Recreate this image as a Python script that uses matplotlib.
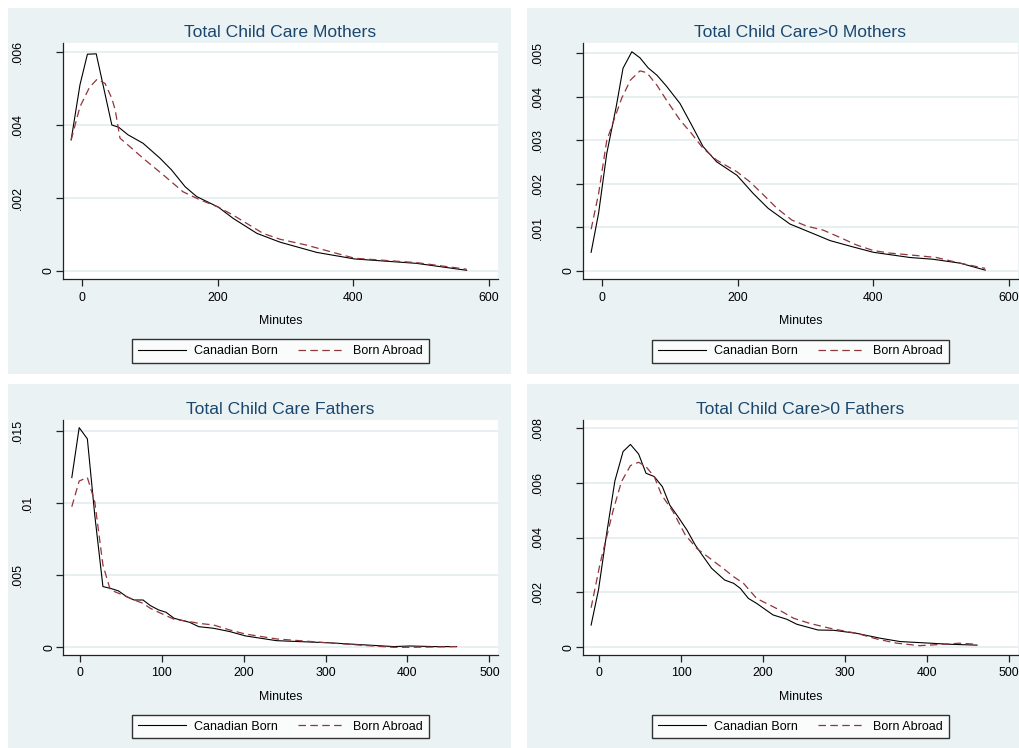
import matplotlib
matplotlib.use('Agg')
import matplotlib.pyplot as plt
from matplotlib.patches import Rectangle
from matplotlib import transforms

plt.rcParams['font.family'] = ['Liberation Sans', 'DejaVu Sans']

# kernel density estimates of daily child care minutes
mothers_x_cb = [-16, -3, 8, 21, 44, 54, 68, 90, 115, 132, 152, 169, 201, 223, 258, 292, 346, 402, 493, 567]
mothers_cb = [0.00359, 0.0051, 0.00594, 0.00595, 0.0040, 0.00394, 0.00373, 0.0035, 0.00309, 0.00277,
              0.00231, 0.00204, 0.00175, 0.00144, 0.00103, 0.00079, 0.00051, 0.00033, 0.00021, 0.00002]
mothers_x_ba = [-16, -3, 11, 22, 34, 44, 49, 56, 71, 90, 120, 149, 174, 201, 223, 267, 292, 331, 370, 402, 493, 567]
mothers_ba = [0.00359, 0.0045, 0.00503, 0.00525, 0.00514, 0.00473, 0.00441, 0.00364, 0.0034, 0.00309, 0.00263,
              0.00217, 0.00195, 0.00175, 0.00153, 0.00103, 0.00087, 0.00071, 0.00051, 0.00035, 0.00023, 0.00005]

mothers_pos_x_cb = [-16, -5, 7, 21, 31, 44, 56, 68, 81, 95, 115, 132, 149, 169, 199, 223, 245, 277, 316, 336,
                    366, 400, 454, 488, 528, 565]
mothers_pos_cb = [0.00043, 0.00133, 0.0027, 0.00378, 0.00466, 0.00504, 0.0049, 0.00467, 0.0045, 0.00425, 0.00385,
                  0.00336, 0.00286, 0.00251, 0.0022, 0.00178, 0.00144, 0.00108, 0.00083, 0.0007, 0.00057, 0.00043,
                  0.00031, 0.00027, 0.00018, 0.00002]
mothers_pos_x_ba = [-16, -5, 7, 29, 42, 56, 66, 81, 95, 115, 132, 149, 169, 199, 218, 238, 258, 280, 302, 326,
                    351, 375, 400, 425, 454, 493, 528, 565]
mothers_pos_ba = [0.00096, 0.00178, 0.003, 0.00397, 0.00439, 0.0046, 0.00456, 0.00427, 0.00393, 0.00347, 0.00316,
                  0.00282, 0.00255, 0.00228, 0.00205, 0.00175, 0.00144, 0.00117, 0.00103, 0.00094, 0.00077, 0.0006,
                  0.00047, 0.00041, 0.00037, 0.00031, 0.00018, 0.00006]

fathers_x = [-10, -1, 9, 18, 28, 37, 47, 57, 66, 77, 86, 96, 105, 115, 134, 145, 163, 183, 202, 240, 301, 350,
             383, 403, 432, 460]
fathers_cb = [0.01177, 0.01523, 0.01445, 0.00918, 0.00421, 0.00409, 0.00391, 0.00351, 0.00328, 0.00328, 0.00289,
              0.00259, 0.00243, 0.00201, 0.00173, 0.00143, 0.00132, 0.00109, 0.00079, 0.00046, 0.00032, 0.00016,
              0.00005, 0.00009, 0.00005, 0.00005]
fathers_ba = [0.00975, 0.01153, 0.01177, 0.0101, 0.00571, 0.00398, 0.00375, 0.00351, 0.00328, 0.00305, 0.0027,
              0.00243, 0.0022, 0.00194, 0.00178, 0.00166, 0.00155, 0.0012, 0.00092, 0.00058, 0.00032, 0.00012,
              0.0, 0.0, 0.00002, 0.00005]

fathers_pos_x_cb = [-10, -1, 9, 19, 29, 38, 48, 57, 67, 77, 86, 96, 107, 117, 127, 137, 153, 164, 172, 182, 192,
                    212, 229, 241, 267, 286, 314, 343, 367, 404, 428, 461]
fathers_pos_cb = [0.00081, 0.00209, 0.00415, 0.00606, 0.00713, 0.00739, 0.00704, 0.00634, 0.00622, 0.00585,
                  0.00518, 0.00476, 0.00427, 0.00373, 0.0033, 0.00288, 0.00245, 0.00233, 0.00215, 0.00178, 0.0016,
                  0.00118, 0.00102, 0.00084, 0.00063, 0.00062, 0.00051, 0.00033, 0.00021, 0.00015, 0.00011, 0.00008]
fathers_pos_x_ba = [-10, 1, 17, 27, 38, 48, 57, 67, 76, 90, 105, 119, 135, 151, 164, 176, 192, 216, 237, 257, 282,
                    314, 339, 363, 391, 420, 440, 461]
fathers_pos_ba = [0.00144, 0.00306, 0.005, 0.00603, 0.00662, 0.00674, 0.00658, 0.00622, 0.00555, 0.00494, 0.00409,
                  0.0036, 0.00324, 0.00288, 0.00257, 0.00233, 0.00178, 0.00142, 0.00106, 0.00087, 0.00069, 0.00051,
                  0.0003, 0.00015, 0.00006, 0.00011, 0.00015, 0.00011]

titles = ['Total Child Care Mothers', 'Total Child Care>0 Mothers',
          'Total Child Care Fathers', 'Total Child Care>0 Fathers']
yticks = [[0, 0.002, 0.004, 0.006], [0, 0.001, 0.002, 0.003, 0.004, 0.005],
          [0, 0.005, 0.01, 0.015], [0, 0.002, 0.004, 0.006, 0.008]]
ytick_labels = [['0', '.002', '.004', '.006'], ['0', '.001', '.002', '.003', '.004', '.005'],
                ['0', '.005', '.01', '.015'], ['0', '.002', '.004', '.006', '.008']]
xticks = [[0, 200, 400, 600], [0, 200, 400, 600],
          [0, 100, 200, 300, 400, 500], [0, 100, 200, 300, 400, 500]]
series = [(mothers_x_cb, mothers_cb, mothers_x_ba, mothers_ba),
          (mothers_pos_x_cb, mothers_pos_cb, mothers_pos_x_ba, mothers_pos_ba),
          (fathers_x, fathers_cb, fathers_x, fathers_ba),
          (fathers_pos_x_cb, fathers_pos_cb, fathers_pos_x_ba, fathers_pos_ba)]

W, H = 1019, 748
BG = '#EAF2F3'
GRID = '#E3ECEE'
NAVY = '#1A476F'
MAROON = '#90353B'

# pixel boxes: outer graph region and plot region (left, top, right, bottom)
regions = [(8, 8, 511.5, 374.5), (527, 8, 1031, 374.5), (8, 384, 511, 751), (527, 384, 1031, 751)]
plots = [(63, 43, 498, 279), (583, 43.3, 1018, 279.3), (63.3, 420, 497.7, 655), (583, 420, 1018, 655)]
xlims = [(-28.0, 613.3), (-28.0, 613.3), (-20.4, 510.2), (-19.9, 511.0)]
ylims = [(-0.000219, 0.006247), (-0.000191, 0.005234), (-0.000534, 0.01576), (-0.00028, 0.00828)]

fig = plt.figure(figsize=(W / 100, H / 100), dpi=100)
fig.patch.set_facecolor('white')

for i in range(4):
    l, t, r, b = regions[i]
    fig.patches.append(Rectangle((l / W, 1 - b / H), (r - l) / W, (b - t) / H,
                                 transform=fig.transFigure, facecolor=BG, edgecolor='none', zorder=-5))
    l, t, r, b = plots[i]
    ax = fig.add_axes([l / W, 1 - b / H, (r - l) / W, (b - t) / H])
    ax.set_facecolor('white')
    for s in ['top', 'right']:
        ax.spines[s].set_visible(False)
    for s in ['left', 'bottom']:
        ax.spines[s].set_color('#222222')
        ax.spines[s].set_linewidth(0.9)

    xcb, ycb, xba, yba = series[i]
    ax.plot(xcb, ycb, color='black', lw=0.8, zorder=3, label='Canadian Born')
    ax.plot(xba, yba, color=MAROON, lw=0.9, linestyle=(0, (6, 3.5)), zorder=3, label='Born Abroad')

    ax.set_xlim(*xlims[i])
    ax.set_ylim(*ylims[i])
    ax.set_xticks(xticks[i])
    ax.set_xticklabels([str(v) for v in xticks[i]])
    ax.set_yticks(yticks[i])
    ax.tick_params(axis='y', labelleft=False, length=5, width=0.9, color='#222222')
    ax.tick_params(axis='x', length=5, width=0.9, color='#222222', labelsize=8.9, pad=4)
    ax.grid(axis='y', color=GRID, lw=1.2, zorder=0)
    ax.set_axisbelow(True)

    # vertical y labels, spaced out by their length
    for v, s in zip(yticks[i], ytick_labels[i]):
        off = -(14 + 10.5 * (len(s) - 1))
        tr = transforms.offset_copy(ax.get_yaxis_transform(), fig=fig, x=off, y=0, units='dots')
        ax.text(0, v, s, transform=tr, rotation=90, ha='center', va='center', fontsize=8.9)

    ax.set_title(titles[i], color=NAVY, fontsize=12.6, pad=4.5)
    ax.set_xlabel('Minutes', fontsize=8.9, labelpad=8)
    leg = ax.legend(loc='upper center', bbox_to_anchor=(0.5, -0.229), ncol=2, fontsize=9,
                    frameon=True, fancybox=False, edgecolor='black', handlelength=3.8,
                    handletextpad=0.65, columnspacing=1.6, borderpad=0.45)
    leg.get_frame().set_linewidth(1.0)
    leg.get_frame().set_facecolor('white')

fig.savefig('out.png', dpi=100)
